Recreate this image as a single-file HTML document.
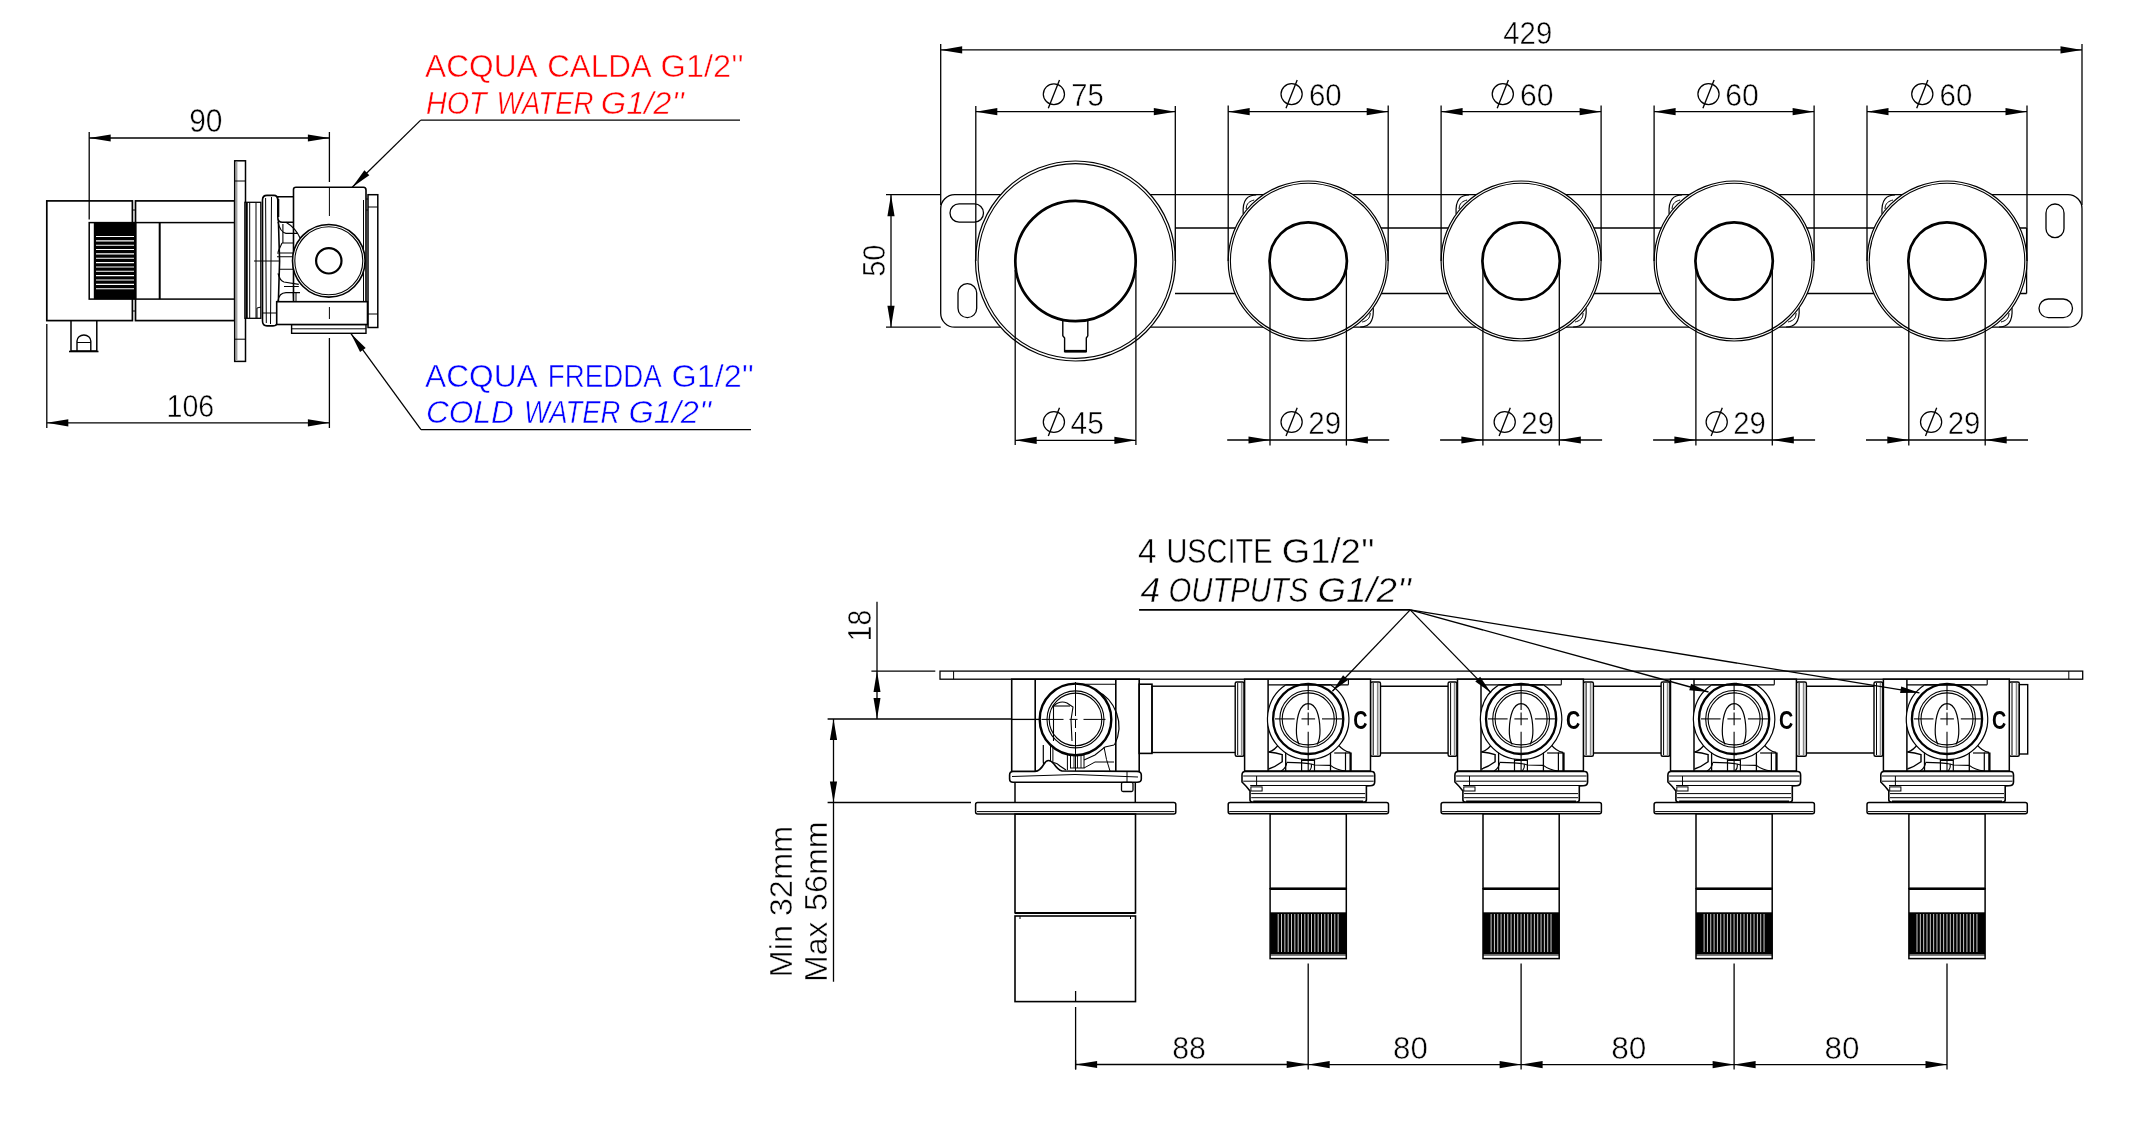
<!DOCTYPE html>
<html><head><meta charset="utf-8"><style>
html,body{margin:0;padding:0;background:#fff;overflow:hidden;}
svg{display:block;}
text{font-family:"Liberation Sans",sans-serif;}
.t{opacity:0.999;}
</style></head><body>
<svg width="2134" height="1122" viewBox="0 0 2134 1122" stroke="#000" fill="none" stroke-linecap="butt">
<rect x="0" y="0" width="2134" height="1122" fill="#fff" stroke="none"/>
<g class="t">
<line x1="89.20" y1="138.00" x2="329.40" y2="138.00" stroke-width="1.3" />
<path d="M89.20,138.00 L110.70,134.40 L110.70,141.60Z" fill="#000" stroke="none"/>
<path d="M329.40,138.00 L307.90,141.60 L307.90,134.40Z" fill="#000" stroke="none"/>
<line x1="89.20" y1="132.00" x2="89.20" y2="219.50" stroke-width="1.3" />
<line x1="329.40" y1="132.00" x2="329.40" y2="182.00" stroke-width="1.3" />
<text transform="translate(190.50,131.90) scale(0.9211,1)" x="-1.47" y="0" font-size="32.57" fill="#000" stroke="#fff" stroke-width="0.5">90</text>
<line x1="46.80" y1="422.80" x2="329.40" y2="422.80" stroke-width="1.3" />
<path d="M46.80,422.80 L68.30,419.20 L68.30,426.40Z" fill="#000" stroke="none"/>
<path d="M329.40,422.80 L307.90,426.40 L307.90,419.20Z" fill="#000" stroke="none"/>
<line x1="46.80" y1="324.00" x2="46.80" y2="428.00" stroke-width="1.3" />
<line x1="329.40" y1="338.00" x2="329.40" y2="428.00" stroke-width="1.3" />
<text transform="translate(168.70,416.90) scale(0.8892,1)" x="-2.41" y="0" font-size="32.14" fill="#000" stroke="#fff" stroke-width="0.5">106</text>
<rect x="46.80" y="200.90" width="85.60" height="119.70" stroke-width="1.7" fill="none" rx="0" />
<rect x="135.50" y="200.90" width="99.20" height="119.70" stroke-width="1.7" fill="none" rx="0" />
<line x1="132.40" y1="210.00" x2="135.50" y2="210.00" stroke-width="1.0" />
<line x1="132.40" y1="311.00" x2="135.50" y2="311.00" stroke-width="1.0" />
<rect x="89.20" y="222.60" width="46.30" height="76.50" stroke-width="1.5" fill="none" rx="0" />
<rect x="93.80" y="222.60" width="41.70" height="76.50" stroke-width="0" fill="#000" rx="0" />
<line x1="96.00" y1="236.50" x2="134.00" y2="236.50" stroke-width="1.1" stroke="#fff"/>
<line x1="96.00" y1="240.85" x2="134.00" y2="240.85" stroke-width="1.1" stroke="#fff"/>
<line x1="96.00" y1="245.20" x2="134.00" y2="245.20" stroke-width="1.1" stroke="#fff"/>
<line x1="96.00" y1="249.55" x2="134.00" y2="249.55" stroke-width="1.1" stroke="#fff"/>
<line x1="96.00" y1="253.90" x2="134.00" y2="253.90" stroke-width="1.1" stroke="#fff"/>
<line x1="96.00" y1="258.25" x2="134.00" y2="258.25" stroke-width="1.1" stroke="#fff"/>
<line x1="96.00" y1="262.60" x2="134.00" y2="262.60" stroke-width="1.1" stroke="#fff"/>
<line x1="96.00" y1="266.95" x2="134.00" y2="266.95" stroke-width="1.1" stroke="#fff"/>
<line x1="96.00" y1="271.30" x2="134.00" y2="271.30" stroke-width="1.1" stroke="#fff"/>
<line x1="96.00" y1="275.65" x2="134.00" y2="275.65" stroke-width="1.1" stroke="#fff"/>
<line x1="96.00" y1="280.00" x2="134.00" y2="280.00" stroke-width="1.1" stroke="#fff"/>
<line x1="96.00" y1="284.35" x2="134.00" y2="284.35" stroke-width="1.1" stroke="#fff"/>
<line x1="96.00" y1="288.70" x2="134.00" y2="288.70" stroke-width="1.1" stroke="#fff"/>
<rect x="135.50" y="222.60" width="99.20" height="76.50" stroke-width="1.5" fill="none" rx="0" />
<line x1="159.70" y1="222.60" x2="159.70" y2="299.10" stroke-width="2.0" />
<path d="M71,320.6 L71,351 L96.8,351 L96.8,320.6" stroke-width="1.5" fill="none" />
<path d="M77,351 L77,341 A6.9,6.0 0 0 1 90.8,341 L90.8,351" stroke-width="1.4" fill="none" />
<line x1="77.00" y1="342.50" x2="90.80" y2="342.50" stroke-width="1.0" />
<line x1="69.00" y1="351.50" x2="98.50" y2="351.50" stroke-width="1.6" />
<rect x="234.70" y="160.80" width="10.80" height="200.60" stroke-width="1.5" fill="#fff" rx="0" />
<line x1="236.80" y1="162.00" x2="236.80" y2="360.00" stroke-width="1.0" stroke="#777"/>
<line x1="234.70" y1="181.00" x2="245.50" y2="181.00" stroke-width="1.0" />
<line x1="234.70" y1="339.20" x2="245.50" y2="339.20" stroke-width="1.0" />
<rect x="244.90" y="202.30" width="15.90" height="116.00" stroke-width="1.3" fill="#fff" rx="0" />
<line x1="246.60" y1="203.00" x2="246.60" y2="318.00" stroke-width="2.3" />
<line x1="249.70" y1="203.00" x2="249.70" y2="318.00" stroke-width="1.0" />
<line x1="256.00" y1="203.00" x2="256.00" y2="318.00" stroke-width="1.0" />
<path d="M257,318 L257,308 L261,307" stroke-width="1.0" fill="none" />
<line x1="254.00" y1="261.00" x2="262.00" y2="261.00" stroke-width="1.0" />
<path d="M262.5,200 Q262.5,195.4 267,195.4 L274,195.4 Q277.5,195.4 277.8,200 L279.6,261 L277.8,321 Q277.5,325.9 273,325.9 L267,325.9 Q262.5,325.9 262.5,321 Z" stroke-width="1.6" fill="#fff" />
<line x1="265.60" y1="198.00" x2="266.30" y2="323.00" stroke-width="1.0" />
<line x1="271.50" y1="197.00" x2="270.50" y2="324.00" stroke-width="1.0" />
<line x1="262.50" y1="261.00" x2="279.50" y2="261.00" stroke-width="1.0" />
<line x1="263.00" y1="313.00" x2="277.50" y2="313.00" stroke-width="1.0" />
<path d="M277.8,196.7 L293.9,196.7 L293.9,222.3 L282.5,222.3 Q277.8,222.3 277.8,217 Z" stroke-width="1.5" fill="#fff" />
<line x1="278.20" y1="199.00" x2="278.20" y2="217.00" stroke-width="2.2" />
<path d="M293.5,301.7 L293.5,189.5 Q293.5,187.3 296,187.3 L363.5,187.3 Q366,187.3 366,190 L366,301.7" stroke-width="1.6" fill="#fff" />
<line x1="363.50" y1="200.00" x2="363.50" y2="301.00" stroke-width="1.0" />
<line x1="366.00" y1="199.00" x2="368.00" y2="199.00" stroke-width="1.0" />
<line x1="366.00" y1="210.00" x2="368.00" y2="210.00" stroke-width="1.0" />
<rect x="291.60" y="324.50" width="74.40" height="8.80" stroke-width="1.4" fill="#fff" rx="0" />
<line x1="291.60" y1="328.80" x2="366.00" y2="328.80" stroke-width="1.0" />
<rect x="368.00" y="194.70" width="9.80" height="132.80" stroke-width="1.5" fill="#fff" rx="0" />
<line x1="368.00" y1="207.00" x2="377.80" y2="207.00" stroke-width="1.0" />
<line x1="368.00" y1="314.00" x2="377.80" y2="314.00" stroke-width="1.0" />
<path d="M278,222 Q280,232 286,233.3 L297.4,233.3" stroke-width="1.2" fill="none" />
<path d="M282.9,224 L282.9,243 M282,243 L293,243" stroke-width="1.1" fill="none" />
<path d="M286,222.3 Q296,228 301,240" stroke-width="1.2" fill="none" />
<path d="M277,253 L293,253 M277,256.8 L293,256.8 M279,269.3 L293,269.3" stroke-width="1.1" fill="none" />
<path d="M282,243 L278,252" stroke-width="1.1" fill="none" />
<path d="M278,273.4 Q280,281 284,282 L298.8,284.4 M284,286.5 L298.8,286.5" stroke-width="1.2" fill="none" />
<path d="M278,301 Q279,293 286,292.7 L300,292.7" stroke-width="1.2" fill="none" />
<line x1="293.20" y1="292.70" x2="293.50" y2="301.00" stroke-width="1.0" />
<line x1="296.00" y1="292.70" x2="296.00" y2="301.00" stroke-width="1.0" />
<rect x="276.70" y="301.70" width="90.80" height="22.80" stroke-width="1.6" fill="#fff" rx="0" />
<circle cx="328.80" cy="260.80" r="36.30" stroke-width="1.6" fill="#fff" />
<circle cx="328.80" cy="260.80" r="34.00" stroke-width="1.1" fill="none" />
<circle cx="328.80" cy="260.80" r="12.70" stroke-width="2.2" fill="none" />
<line x1="329.40" y1="188.00" x2="329.40" y2="216.00" stroke-width="1.0" />
<line x1="329.40" y1="307.00" x2="329.40" y2="319.00" stroke-width="1.0" />
<line x1="420.70" y1="120.10" x2="740.00" y2="120.10" stroke-width="1.3" />
<line x1="420.70" y1="120.10" x2="352.20" y2="187.20" stroke-width="1.3" />
<path d="M352.20,187.20 L364.40,170.35 L369.29,175.36Z" fill="#000" stroke="none"/>
<line x1="421.00" y1="429.60" x2="751.00" y2="429.60" stroke-width="1.3" />
<line x1="421.00" y1="429.60" x2="350.80" y2="333.40" stroke-width="1.3" />
<path d="M350.80,333.40 L365.71,347.90 L360.06,352.02Z" fill="#000" stroke="none"/>
<text transform="translate(425.10,77.20) scale(1.0260,1)" x="-0.00" y="0" font-size="30.87" fill="#ff0000" stroke="#fff" stroke-width="0.5">ACQUA</text>
<text transform="translate(548.70,77.20) scale(1.0157,1)" x="-1.54" y="0" font-size="30.87" fill="#ff0000" stroke="#fff" stroke-width="0.5">CALDA</text>
<text transform="translate(662.20,77.20) scale(1.0551,1)" x="-1.54" y="0" font-size="30.87" fill="#ff0000" stroke="#fff" stroke-width="0.5">G1/2''</text>
<text transform="translate(426.80,113.70) scale(0.9069,1)" x="-0.95" y="0" font-size="31.74" fill="#ff0000" stroke="#fff" stroke-width="0.5" font-style="italic">HOT</text>
<text transform="translate(498.90,113.70) scale(0.8674,1)" x="-2.70" y="0" font-size="31.74" fill="#ff0000" stroke="#fff" stroke-width="0.5" font-style="italic">WATER</text>
<text transform="translate(602.40,113.70) scale(1.0286,1)" x="-1.59" y="0" font-size="31.74" fill="#ff0000" stroke="#fff" stroke-width="0.5" font-style="italic">G1/2''</text>
<text transform="translate(425.00,387.00) scale(1.0270,1)" x="-0.00" y="0" font-size="30.87" fill="#0000ff" stroke="#fff" stroke-width="0.5">ACQUA</text>
<text transform="translate(550.00,387.00) scale(0.8979,1)" x="-2.47" y="0" font-size="30.87" fill="#0000ff" stroke="#fff" stroke-width="0.5">FREDDA</text>
<text transform="translate(673.10,387.00) scale(1.0485,1)" x="-1.54" y="0" font-size="30.87" fill="#0000ff" stroke="#fff" stroke-width="0.5">G1/2''</text>
<text transform="translate(427.70,422.80) scale(1.0153,1)" x="-1.71" y="0" font-size="31.16" fill="#0000ff" stroke="#fff" stroke-width="0.5" font-style="italic">COLD</text>
<text transform="translate(526.30,422.80) scale(0.8797,1)" x="-2.65" y="0" font-size="31.16" fill="#0000ff" stroke="#fff" stroke-width="0.5" font-style="italic">WATER</text>
<text transform="translate(630.10,422.80) scale(1.0427,1)" x="-1.56" y="0" font-size="31.16" fill="#0000ff" stroke="#fff" stroke-width="0.5" font-style="italic">G1/2''</text>
<rect x="940.70" y="194.70" width="1141.30" height="132.50" stroke-width="1.3" fill="#fff" rx="14" />
<line x1="886.00" y1="194.70" x2="940.70" y2="194.70" stroke-width="1.3" />
<line x1="886.00" y1="327.20" x2="940.70" y2="327.20" stroke-width="1.3" />
<rect x="950.00" y="203.90" width="33.50" height="18.30" stroke-width="1.3" fill="none" rx="9.1" />
<rect x="958.00" y="283.70" width="18.70" height="33.90" stroke-width="1.3" fill="none" rx="9.3" />
<rect x="2046.00" y="204.00" width="18.00" height="33.70" stroke-width="1.3" fill="none" rx="9" />
<rect x="2039.00" y="299.00" width="33.50" height="18.60" stroke-width="1.3" fill="none" rx="9.3" />
<line x1="1175.00" y1="228.00" x2="2026.60" y2="228.00" stroke-width="1.3" />
<line x1="1175.00" y1="293.50" x2="2026.60" y2="293.50" stroke-width="1.3" />
<line x1="2026.60" y1="228.00" x2="2026.60" y2="293.50" stroke-width="1.3" />
<line x1="891.00" y1="194.70" x2="891.00" y2="327.20" stroke-width="1.3" />
<path d="M891.00,194.70 L894.60,216.20 L887.40,216.20Z" fill="#000" stroke="none"/>
<path d="M891.00,327.20 L887.40,305.70 L894.60,305.70Z" fill="#000" stroke="none"/>
<text transform="translate(885.00,275.70) rotate(-90) scale(0.9118,1)" x="-1.28" y="0" font-size="32.00" fill="#000" stroke="#fff" stroke-width="0.5">50</text>
<line x1="940.70" y1="49.90" x2="2082.00" y2="49.90" stroke-width="1.3" />
<path d="M940.70,49.90 L962.20,46.30 L962.20,53.50Z" fill="#000" stroke="none"/>
<path d="M2082.00,49.90 L2060.50,53.50 L2060.50,46.30Z" fill="#000" stroke="none"/>
<line x1="940.70" y1="44.00" x2="940.70" y2="205.00" stroke-width="1.3" />
<line x1="2082.00" y1="44.00" x2="2082.00" y2="205.00" stroke-width="1.3" />
<text transform="translate(1503.90,43.50) scale(0.9201,1)" x="-0.64" y="0" font-size="31.86" fill="#000" stroke="#fff" stroke-width="0.5">429</text>
<circle cx="1075.50" cy="261.00" r="100.00" stroke-width="1.2" fill="#fff" />
<circle cx="1075.50" cy="261.00" r="97.40" stroke-width="1.1" fill="none" />
<circle cx="1075.50" cy="261.00" r="60.20" stroke-width="2.7" fill="none" />
<path d="M1062.8,321 L1062.8,335.8 L1064.6,338 L1064.6,351.5 L1086.3,351.5 L1086.3,338 L1087.8,335.8 L1087.8,321" stroke-width="1.4" fill="none" />
<line x1="1064.60" y1="351.20" x2="1086.30" y2="351.20" stroke-width="2.6" />
<line x1="975.80" y1="111.70" x2="1175.30" y2="111.70" stroke-width="1.3" />
<path d="M975.80,111.70 L997.30,108.10 L997.30,115.30Z" fill="#000" stroke="none"/>
<path d="M1175.30,111.70 L1153.80,115.30 L1153.80,108.10Z" fill="#000" stroke="none"/>
<line x1="975.80" y1="106.00" x2="975.80" y2="261.00" stroke-width="1.3" />
<line x1="1175.30" y1="106.00" x2="1175.30" y2="261.00" stroke-width="1.3" />
<ellipse cx="1053.90" cy="94.20" rx="10.60" ry="10.40" stroke-width="1.25" fill="none" />
<line x1="1048.30" y1="108.30" x2="1059.50" y2="80.00" stroke-width="1.35" />
<text transform="translate(1072.60,105.70) scale(0.9333,1)" x="-1.57" y="0" font-size="31.30" fill="#000" stroke="#fff" stroke-width="0.5">75</text>
<line x1="1015.20" y1="440.30" x2="1135.90" y2="440.30" stroke-width="1.3" />
<path d="M1015.20,440.30 L1036.70,436.70 L1036.70,443.90Z" fill="#000" stroke="none"/>
<path d="M1135.90,440.30 L1114.40,443.90 L1114.40,436.70Z" fill="#000" stroke="none"/>
<line x1="1015.20" y1="270.00" x2="1015.20" y2="445.00" stroke-width="1.3" />
<line x1="1135.90" y1="270.00" x2="1135.90" y2="445.00" stroke-width="1.3" />
<ellipse cx="1053.90" cy="422.00" rx="10.60" ry="10.40" stroke-width="1.25" fill="none" />
<line x1="1048.30" y1="436.10" x2="1059.50" y2="407.80" stroke-width="1.35" />
<text transform="translate(1071.20,433.50) scale(0.9379,1)" x="-0.64" y="0" font-size="31.88" fill="#000" stroke="#fff" stroke-width="0.5">45</text>
<path d="M1243.2,214 C1242.2,199 1248.2,195 1256.2,195" stroke-width="1.2" fill="none" />
<path d="M1246.2,209 C1246.2,203 1250.2,201 1254.2,200" stroke-width="1.0" fill="none" />
<path d="M1373.2,308 C1374.2,323 1368.2,327 1360.2,327" stroke-width="1.2" fill="none" />
<path d="M1370.2,313 C1370.2,319 1366.2,321 1362.2,322" stroke-width="1.0" fill="none" />
<circle cx="1308.20" cy="261.00" r="80.00" stroke-width="1.2" fill="#fff" />
<circle cx="1308.20" cy="261.00" r="77.80" stroke-width="1.1" fill="none" />
<circle cx="1308.20" cy="261.00" r="38.70" stroke-width="2.7" fill="none" />
<line x1="1228.20" y1="111.70" x2="1388.20" y2="111.70" stroke-width="1.3" />
<path d="M1228.20,111.70 L1249.70,108.10 L1249.70,115.30Z" fill="#000" stroke="none"/>
<path d="M1388.20,111.70 L1366.70,115.30 L1366.70,108.10Z" fill="#000" stroke="none"/>
<line x1="1228.20" y1="105.60" x2="1228.20" y2="261.00" stroke-width="1.3" />
<line x1="1388.20" y1="105.60" x2="1388.20" y2="261.00" stroke-width="1.3" />
<ellipse cx="1291.60" cy="94.10" rx="10.60" ry="10.40" stroke-width="1.25" fill="none" />
<line x1="1286.00" y1="108.20" x2="1297.20" y2="79.90" stroke-width="1.35" />
<text transform="translate(1310.40,105.80) scale(0.9207,1)" x="-1.60" y="0" font-size="32.00" fill="#000" stroke="#fff" stroke-width="0.5">60</text>
<line x1="1227.20" y1="440.00" x2="1389.20" y2="440.00" stroke-width="1.3" />
<path d="M1270.00,440.00 L1248.50,443.60 L1248.50,436.40Z" fill="#000" stroke="none"/>
<path d="M1346.40,440.00 L1367.90,436.40 L1367.90,443.60Z" fill="#000" stroke="none"/>
<line x1="1270.00" y1="266.00" x2="1270.00" y2="445.50" stroke-width="1.3" />
<line x1="1346.40" y1="266.00" x2="1346.40" y2="445.50" stroke-width="1.3" />
<ellipse cx="1291.60" cy="422.00" rx="10.60" ry="10.40" stroke-width="1.25" fill="none" />
<line x1="1286.00" y1="436.10" x2="1297.20" y2="407.80" stroke-width="1.35" />
<text transform="translate(1309.70,433.50) scale(0.9491,1)" x="-1.56" y="0" font-size="31.14" fill="#000" stroke="#fff" stroke-width="0.5">29</text>
<path d="M1456.1,214 C1455.1,199 1461.1,195 1469.1,195" stroke-width="1.2" fill="none" />
<path d="M1459.1,209 C1459.1,203 1463.1,201 1467.1,200" stroke-width="1.0" fill="none" />
<path d="M1586.1,308 C1587.1,323 1581.1,327 1573.1,327" stroke-width="1.2" fill="none" />
<path d="M1583.1,313 C1583.1,319 1579.1,321 1575.1,322" stroke-width="1.0" fill="none" />
<circle cx="1521.10" cy="261.00" r="80.00" stroke-width="1.2" fill="#fff" />
<circle cx="1521.10" cy="261.00" r="77.80" stroke-width="1.1" fill="none" />
<circle cx="1521.10" cy="261.00" r="38.70" stroke-width="2.7" fill="none" />
<line x1="1441.10" y1="111.70" x2="1601.10" y2="111.70" stroke-width="1.3" />
<path d="M1441.10,111.70 L1462.60,108.10 L1462.60,115.30Z" fill="#000" stroke="none"/>
<path d="M1601.10,111.70 L1579.60,115.30 L1579.60,108.10Z" fill="#000" stroke="none"/>
<line x1="1441.10" y1="105.60" x2="1441.10" y2="261.00" stroke-width="1.3" />
<line x1="1601.10" y1="105.60" x2="1601.10" y2="261.00" stroke-width="1.3" />
<ellipse cx="1502.80" cy="94.10" rx="10.60" ry="10.40" stroke-width="1.25" fill="none" />
<line x1="1497.20" y1="108.20" x2="1508.40" y2="79.90" stroke-width="1.35" />
<text transform="translate(1521.50,105.80) scale(0.9421,1)" x="-1.60" y="0" font-size="32.00" fill="#000" stroke="#fff" stroke-width="0.5">60</text>
<line x1="1440.10" y1="440.00" x2="1602.10" y2="440.00" stroke-width="1.3" />
<path d="M1482.90,440.00 L1461.40,443.60 L1461.40,436.40Z" fill="#000" stroke="none"/>
<path d="M1559.30,440.00 L1580.80,436.40 L1580.80,443.60Z" fill="#000" stroke="none"/>
<line x1="1482.90" y1="266.00" x2="1482.90" y2="445.50" stroke-width="1.3" />
<line x1="1559.30" y1="266.00" x2="1559.30" y2="445.50" stroke-width="1.3" />
<ellipse cx="1504.70" cy="422.00" rx="10.60" ry="10.40" stroke-width="1.25" fill="none" />
<line x1="1499.10" y1="436.10" x2="1510.30" y2="407.80" stroke-width="1.35" />
<text transform="translate(1522.70,433.50) scale(0.9491,1)" x="-1.56" y="0" font-size="31.14" fill="#000" stroke="#fff" stroke-width="0.5">29</text>
<path d="M1669.1,214 C1668.1,199 1674.1,195 1682.1,195" stroke-width="1.2" fill="none" />
<path d="M1672.1,209 C1672.1,203 1676.1,201 1680.1,200" stroke-width="1.0" fill="none" />
<path d="M1799.1,308 C1800.1,323 1794.1,327 1786.1,327" stroke-width="1.2" fill="none" />
<path d="M1796.1,313 C1796.1,319 1792.1,321 1788.1,322" stroke-width="1.0" fill="none" />
<circle cx="1734.10" cy="261.00" r="80.00" stroke-width="1.2" fill="#fff" />
<circle cx="1734.10" cy="261.00" r="77.80" stroke-width="1.1" fill="none" />
<circle cx="1734.10" cy="261.00" r="38.70" stroke-width="2.7" fill="none" />
<line x1="1654.10" y1="111.70" x2="1814.10" y2="111.70" stroke-width="1.3" />
<path d="M1654.10,111.70 L1675.60,108.10 L1675.60,115.30Z" fill="#000" stroke="none"/>
<path d="M1814.10,111.70 L1792.60,115.30 L1792.60,108.10Z" fill="#000" stroke="none"/>
<line x1="1654.10" y1="105.60" x2="1654.10" y2="261.00" stroke-width="1.3" />
<line x1="1814.10" y1="105.60" x2="1814.10" y2="261.00" stroke-width="1.3" />
<ellipse cx="1708.50" cy="94.10" rx="10.60" ry="10.40" stroke-width="1.25" fill="none" />
<line x1="1702.90" y1="108.20" x2="1714.10" y2="79.90" stroke-width="1.35" />
<text transform="translate(1726.70,105.80) scale(0.9451,1)" x="-1.60" y="0" font-size="32.00" fill="#000" stroke="#fff" stroke-width="0.5">60</text>
<line x1="1653.10" y1="440.00" x2="1815.10" y2="440.00" stroke-width="1.3" />
<path d="M1695.90,440.00 L1674.40,443.60 L1674.40,436.40Z" fill="#000" stroke="none"/>
<path d="M1772.30,440.00 L1793.80,436.40 L1793.80,443.60Z" fill="#000" stroke="none"/>
<line x1="1695.90" y1="266.00" x2="1695.90" y2="445.50" stroke-width="1.3" />
<line x1="1772.30" y1="266.00" x2="1772.30" y2="445.50" stroke-width="1.3" />
<ellipse cx="1716.70" cy="422.00" rx="10.60" ry="10.40" stroke-width="1.25" fill="none" />
<line x1="1711.10" y1="436.10" x2="1722.30" y2="407.80" stroke-width="1.35" />
<text transform="translate(1734.70,433.50) scale(0.9427,1)" x="-1.56" y="0" font-size="31.14" fill="#000" stroke="#fff" stroke-width="0.5">29</text>
<path d="M1882.0,214 C1881.0,199 1887.0,195 1895.0,195" stroke-width="1.2" fill="none" />
<path d="M1885.0,209 C1885.0,203 1889.0,201 1893.0,200" stroke-width="1.0" fill="none" />
<path d="M2012.0,308 C2013.0,323 2007.0,327 1999.0,327" stroke-width="1.2" fill="none" />
<path d="M2009.0,313 C2009.0,319 2005.0,321 2001.0,322" stroke-width="1.0" fill="none" />
<circle cx="1947.00" cy="261.00" r="80.00" stroke-width="1.2" fill="#fff" />
<circle cx="1947.00" cy="261.00" r="77.80" stroke-width="1.1" fill="none" />
<circle cx="1947.00" cy="261.00" r="38.70" stroke-width="2.7" fill="none" />
<line x1="1867.00" y1="111.70" x2="2027.00" y2="111.70" stroke-width="1.3" />
<path d="M1867.00,111.70 L1888.50,108.10 L1888.50,115.30Z" fill="#000" stroke="none"/>
<path d="M2027.00,111.70 L2005.50,115.30 L2005.50,108.10Z" fill="#000" stroke="none"/>
<line x1="1867.00" y1="105.60" x2="1867.00" y2="261.00" stroke-width="1.3" />
<line x1="2027.00" y1="105.60" x2="2027.00" y2="261.00" stroke-width="1.3" />
<ellipse cx="1922.30" cy="94.10" rx="10.60" ry="10.40" stroke-width="1.25" fill="none" />
<line x1="1916.70" y1="108.20" x2="1927.90" y2="79.90" stroke-width="1.35" />
<text transform="translate(1941.00,105.80) scale(0.9207,1)" x="-1.60" y="0" font-size="32.00" fill="#000" stroke="#fff" stroke-width="0.5">60</text>
<line x1="1866.00" y1="440.00" x2="2028.00" y2="440.00" stroke-width="1.3" />
<path d="M1908.80,440.00 L1887.30,443.60 L1887.30,436.40Z" fill="#000" stroke="none"/>
<path d="M1985.20,440.00 L2006.70,436.40 L2006.70,443.60Z" fill="#000" stroke="none"/>
<line x1="1908.80" y1="266.00" x2="1908.80" y2="445.50" stroke-width="1.3" />
<line x1="1985.20" y1="266.00" x2="1985.20" y2="445.50" stroke-width="1.3" />
<ellipse cx="1931.10" cy="422.00" rx="10.60" ry="10.40" stroke-width="1.25" fill="none" />
<line x1="1925.50" y1="436.10" x2="1936.70" y2="407.80" stroke-width="1.35" />
<text transform="translate(1949.10,433.50) scale(0.9427,1)" x="-1.56" y="0" font-size="31.14" fill="#000" stroke="#fff" stroke-width="0.5">29</text>
<rect x="940.00" y="671.10" width="1142.70" height="8.10" stroke-width="1.3" fill="#fff" rx="0" />
<line x1="953.60" y1="671.10" x2="953.60" y2="679.20" stroke-width="1.0" />
<line x1="2068.80" y1="671.10" x2="2068.80" y2="679.20" stroke-width="1.0" />
<line x1="877.00" y1="601.70" x2="877.00" y2="719.00" stroke-width="1.3" />
<path d="M877.00,671.10 L880.50,692.10 L873.50,692.10Z" fill="#000" stroke="none"/>
<path d="M877.00,719.00 L873.50,698.00 L880.50,698.00Z" fill="#000" stroke="none"/>
<line x1="871.40" y1="671.10" x2="935.30" y2="671.10" stroke-width="1.3" />
<line x1="827.60" y1="719.00" x2="1040.00" y2="719.00" stroke-width="1.3" />
<text transform="translate(870.70,639.10) rotate(-90) scale(0.8709,1)" x="-2.43" y="0" font-size="32.43" fill="#000" stroke="#fff" stroke-width="0.5">18</text>
<line x1="833.50" y1="719.00" x2="833.50" y2="981.70" stroke-width="1.3" />
<path d="M833.50,719.00 L837.10,740.00 L829.90,740.00Z" fill="#000" stroke="none"/>
<path d="M833.50,802.50 L829.90,781.50 L837.10,781.50Z" fill="#000" stroke="none"/>
<line x1="827.60" y1="802.50" x2="971.00" y2="802.50" stroke-width="1.3" />
<text transform="translate(791.50,974.80) rotate(-90) scale(1.0212,1)" x="-2.55" y="0" font-size="31.88" fill="#000" stroke="#fff" stroke-width="0.5">Min</text>
<text transform="translate(791.50,915.00) rotate(-90) scale(1.0212,1)" x="-1.28" y="0" font-size="31.88" fill="#000" stroke="#fff" stroke-width="0.5">32mm</text>
<text transform="translate(827.10,979.40) rotate(-90) scale(1.0082,1)" x="-2.54" y="0" font-size="31.74" fill="#000" stroke="#fff" stroke-width="0.5">Max</text>
<text transform="translate(827.10,909.70) rotate(-90) scale(1.0176,1)" x="-1.27" y="0" font-size="31.74" fill="#000" stroke="#fff" stroke-width="0.5">56mm</text>
<rect x="1011.70" y="679.20" width="127.50" height="92.30" stroke-width="1.6" fill="#fff" rx="0" />
<line x1="1035.20" y1="679.20" x2="1035.20" y2="771.50" stroke-width="1.6" />
<line x1="1115.80" y1="679.20" x2="1115.80" y2="771.50" stroke-width="1.6" />
<line x1="1075.00" y1="684.20" x2="1115.80" y2="684.20" stroke-width="1.1" />
<line x1="1011.70" y1="719.40" x2="1040.00" y2="719.40" stroke-width="1.3" />
<path d="M1095,690 A40,40 0 0 1 1114.5,745" stroke-width="1.2" fill="none" />
<path d="M1043.3,745 L1043.3,762 Q1044,770 1050,765 Q1054,760 1060,766 L1066,770" stroke-width="1.2" fill="none" />
<line x1="1050.50" y1="745.00" x2="1050.50" y2="768.00" stroke-width="1.0" />
<line x1="1052.90" y1="748.00" x2="1052.90" y2="768.00" stroke-width="1.0" />
<line x1="1067.40" y1="752.00" x2="1067.40" y2="770.00" stroke-width="1.0" />
<rect x="1070.50" y="755.00" width="13.50" height="13.00" stroke-width="1.0" fill="none" rx="0" />
<line x1="1074.00" y1="755.00" x2="1074.00" y2="768.00" stroke-width="0.9" />
<line x1="1077.50" y1="755.00" x2="1077.50" y2="768.00" stroke-width="0.9" />
<line x1="1081.00" y1="755.00" x2="1081.00" y2="768.00" stroke-width="0.9" />
<path d="M1084,760 L1095,755 L1105,747 L1114,745" stroke-width="1.1" fill="none" />
<path d="M1084,768 L1095,762 L1114,762" stroke-width="1.0" fill="none" />
<path d="M1104,747 Q1106,760 1110,771" stroke-width="1.0" fill="none" />
<circle cx="1075.50" cy="719.40" r="35.80" stroke-width="2.4" fill="#fff" />
<circle cx="1075.50" cy="719.40" r="28.50" stroke-width="1.1" fill="none" />
<circle cx="1075.50" cy="719.40" r="26.30" stroke-width="1.1" fill="none" />
<path d="M1053.5,706 L1053.5,741 M1053.5,706 Q1060,700 1067,703 L1073,707 L1071,720 L1072,741" stroke-width="1.1" fill="none" />
<line x1="1053.50" y1="706.00" x2="1070.00" y2="706.00" stroke-width="1.1" />
<line x1="1041.50" y1="719.40" x2="1109.50" y2="719.40" stroke-width="1.0" stroke-dasharray="22 6 8 6"/>
<line x1="1075.50" y1="682.00" x2="1075.50" y2="783.00" stroke-width="1.0" stroke-dasharray="34 4 8 4 200"/>
<path d="M1009.6,775 Q1009.6,771.5 1013,771.5 L1035,771.5 Q1040,771 1044,764 Q1048,757 1054,764 Q1058,770 1062,771 L1137,771.5 Q1141.3,771.5 1141.3,775 L1141.3,779 Q1141.3,782.3 1137,782.3 L1013,782.3 Q1009.6,782.3 1009.6,779 Z" stroke-width="1.6" fill="#fff" />
<line x1="1012.00" y1="776.50" x2="1075.00" y2="774.50" stroke-width="1.0" />
<line x1="1075.00" y1="774.50" x2="1138.00" y2="777.00" stroke-width="1.0" />
<line x1="1127.00" y1="771.50" x2="1127.00" y2="782.30" stroke-width="1.0" />
<line x1="1015.00" y1="782.30" x2="1015.00" y2="802.40" stroke-width="1.5" />
<line x1="1135.30" y1="782.30" x2="1135.30" y2="802.40" stroke-width="1.5" />
<rect x="1121.50" y="782.30" width="11.50" height="9.20" stroke-width="1.3" fill="none" rx="1.5" />
<rect x="1139.20" y="684.20" width="12.80" height="69.20" stroke-width="1.6" fill="none" rx="0" />
<rect x="1152.00" y="686.20" width="84.00" height="66.30" stroke-width="1.4" fill="none" rx="0" />
<rect x="975.60" y="802.40" width="200.20" height="11.70" stroke-width="1.5" fill="#fff" rx="2" />
<line x1="977.00" y1="811.60" x2="1174.50" y2="811.60" stroke-width="1.0" />
<rect x="1015.00" y="814.10" width="120.50" height="98.70" stroke-width="1.6" fill="none" rx="0" />
<line x1="1015.00" y1="913.50" x2="1135.50" y2="913.50" stroke-width="1.0" />
<rect x="1015.00" y="916.00" width="120.50" height="85.60" stroke-width="1.6" fill="none" rx="0" />
<line x1="1020.00" y1="916.00" x2="1020.00" y2="919.00" stroke-width="1.0" />
<line x1="1130.50" y1="916.00" x2="1130.50" y2="919.00" stroke-width="1.0" />
<line x1="1075.60" y1="991.00" x2="1075.60" y2="1001.60" stroke-width="1.3" />
<line x1="1075.60" y1="1007.00" x2="1075.60" y2="1069.50" stroke-width="1.3" />
<line x1="1380.20" y1="686.20" x2="1448.10" y2="686.20" stroke-width="1.4" />
<line x1="1380.20" y1="753.00" x2="1448.10" y2="753.00" stroke-width="1.4" />
<rect x="1235.20" y="682.00" width="8.80" height="74.20" stroke-width="1.4" fill="#fff" rx="1.5" />
<line x1="1237.70" y1="683.00" x2="1237.70" y2="755.00" stroke-width="1.0" />
<line x1="1241.70" y1="683.00" x2="1241.70" y2="755.00" stroke-width="1.6" stroke="#888"/>
<rect x="1370.50" y="682.00" width="10.00" height="74.20" stroke-width="1.4" fill="#fff" rx="1.5" />
<line x1="1373.20" y1="683.00" x2="1373.20" y2="755.00" stroke-width="1.0" />
<line x1="1377.70" y1="683.00" x2="1377.70" y2="755.00" stroke-width="1.6" stroke="#888"/>
<rect x="1244.60" y="679.20" width="125.90" height="91.80" stroke-width="1.5" fill="#fff" rx="0" />
<line x1="1268.10" y1="679.20" x2="1268.10" y2="771.00" stroke-width="1.5" />
<line x1="1268.10" y1="684.80" x2="1348.40" y2="684.80" stroke-width="1.3" />
<line x1="1348.40" y1="679.20" x2="1348.40" y2="684.80" stroke-width="1.1" />
<path d="M1279.0,743.8 Q1275.2,750 1268.6000000000001,752" stroke-width="1.3" fill="none" />
<path d="M1268.6000000000001,752 Q1276.2,752.5 1282.2,754.6 L1282.2,761.8 Q1275.2,767 1268.6000000000001,769" stroke-width="1.4" fill="none" />
<line x1="1285.70" y1="747.40" x2="1285.70" y2="771.00" stroke-width="1.3" />
<path d="M1286.7,762.8 Q1286.2,768 1281.2,771" stroke-width="1.2" fill="none" />
<path d="M1301.6000000000001,754 L1301.6000000000001,771 M1314.5,754 L1314.5,771 M1301.6000000000001,754.6 L1314.5,754.6 M1301.6000000000001,760.3 L1314.5,760.3" stroke-width="1.2" fill="none" />
<path d="M1286.7,762.3 Q1303.2,762.5 1311.2,764 L1314.5,765 L1330.2,765.4" stroke-width="1.2" fill="none" />
<path d="M1311.2,764 Q1312.2,768 1309.2,771" stroke-width="1.1" fill="none" />
<line x1="1330.50" y1="748.40" x2="1330.50" y2="771.00" stroke-width="1.3" />
<path d="M1337.4,743.8 Q1343.2,751 1350.2,752.5" stroke-width="1.3" fill="none" />
<path d="M1334.2,753 L1350.6000000000001,753" stroke-width="1.2" fill="none" />
<line x1="1345.50" y1="752.50" x2="1345.50" y2="771.00" stroke-width="1.2" />
<line x1="1350.60" y1="752.50" x2="1350.60" y2="771.00" stroke-width="2.3" />
<path d="M1330.5,765.4 Q1336.2,770 1345.2,771" stroke-width="1.2" fill="none" />
<path d="M1330.4,684.8 A40.7,40.7 0 1 1 1286.0,684.8 Z" stroke-width="1.2" fill="#fff" />
<line x1="1286.00" y1="684.80" x2="1330.40" y2="684.80" stroke-width="1.3" />
<circle cx="1308.20" cy="718.90" r="35.10" stroke-width="2.3" fill="none" />
<circle cx="1308.20" cy="718.90" r="28.40" stroke-width="1.1" fill="none" />
<circle cx="1308.20" cy="718.90" r="26.00" stroke-width="1.1" fill="none" />
<path d="M1308.2,703.6 C1316.2,703.6 1319.7,716 1320.0,730 Q1320.2,739 1317.2,744.5 M1308.2,703.6 C1300.2,703.6 1296.7,716 1296.4,730 Q1296.2,739 1299.2,744.5" stroke-width="1.2" fill="none" />
<line x1="1275.00" y1="718.90" x2="1294.70" y2="718.90" stroke-width="1.1" />
<line x1="1301.50" y1="718.90" x2="1315.10" y2="718.90" stroke-width="1.1" />
<line x1="1322.00" y1="718.90" x2="1342.40" y2="718.90" stroke-width="1.1" />
<line x1="1308.20" y1="683.60" x2="1308.20" y2="710.00" stroke-width="1.1" />
<line x1="1308.20" y1="712.50" x2="1308.20" y2="725.30" stroke-width="1.1" />
<line x1="1308.20" y1="731.70" x2="1308.20" y2="803.00" stroke-width="1.1" />
<text transform="translate(1354.00,728.50) scale(0.7659,1)" x="-1.03" y="0" font-size="25.71" fill="#000" stroke="none" font-weight="bold">C</text>
<path d="M1242.0,775 Q1242.0,771.5 1245.2,771.5 L1371.7,771.5 Q1374.7,771.5 1374.7,775 L1374.7,782 Q1374.7,785.7 1370.2,785.7 L1366.4,786 L1366.4,800 Q1366.4,802.2 1363.2,802.2 L1253.2,802.2 Q1250.0,802.2 1250.0,800 L1250.0,791 Q1246.2,786 1242.0,782 Z" stroke-width="1.6" fill="#fff" />
<line x1="1243.20" y1="776.00" x2="1373.70" y2="776.00" stroke-width="1.0" />
<line x1="1243.20" y1="781.20" x2="1373.70" y2="781.20" stroke-width="1.0" />
<line x1="1250.20" y1="785.50" x2="1370.20" y2="785.50" stroke-width="1.1" />
<line x1="1251.20" y1="793.60" x2="1365.20" y2="793.60" stroke-width="1.0" />
<line x1="1251.20" y1="797.70" x2="1365.20" y2="797.70" stroke-width="1.0" />
<line x1="1253.20" y1="801.70" x2="1363.20" y2="801.70" stroke-width="2.2" />
<line x1="1256.60" y1="776.00" x2="1256.60" y2="785.50" stroke-width="1.0" />
<rect x="1250.90" y="786.90" width="11.20" height="4.10" stroke-width="1.0" fill="none" rx="0" />
<rect x="1228.20" y="802.40" width="160.30" height="11.40" stroke-width="1.5" fill="#fff" rx="2" />
<line x1="1229.20" y1="811.60" x2="1387.50" y2="811.60" stroke-width="1.0" />
<rect x="1270.10" y="813.80" width="76.20" height="74.80" stroke-width="1.5" fill="none" rx="0" />
<line x1="1270.10" y1="888.80" x2="1346.30" y2="888.80" stroke-width="2.6" />
<rect x="1270.10" y="888.80" width="76.20" height="69.80" stroke-width="1.5" fill="none" rx="0" />
<rect x="1270.10" y="912.30" width="76.20" height="41.90" stroke-width="0" fill="#000" rx="0" />
<line x1="1278.20" y1="914.00" x2="1278.20" y2="952.00" stroke-width="0.8" stroke="#fff"/>
<line x1="1281.53" y1="914.00" x2="1281.53" y2="952.00" stroke-width="0.8" stroke="#fff"/>
<line x1="1284.86" y1="914.00" x2="1284.86" y2="952.00" stroke-width="0.8" stroke="#fff"/>
<line x1="1288.19" y1="914.00" x2="1288.19" y2="952.00" stroke-width="0.8" stroke="#fff"/>
<line x1="1291.52" y1="914.00" x2="1291.52" y2="952.00" stroke-width="0.8" stroke="#fff"/>
<line x1="1294.85" y1="914.00" x2="1294.85" y2="952.00" stroke-width="0.8" stroke="#fff"/>
<line x1="1298.18" y1="914.00" x2="1298.18" y2="952.00" stroke-width="0.8" stroke="#fff"/>
<line x1="1301.51" y1="914.00" x2="1301.51" y2="952.00" stroke-width="0.8" stroke="#fff"/>
<line x1="1304.84" y1="914.00" x2="1304.84" y2="952.00" stroke-width="0.8" stroke="#fff"/>
<line x1="1308.17" y1="914.00" x2="1308.17" y2="952.00" stroke-width="0.8" stroke="#fff"/>
<line x1="1311.50" y1="914.00" x2="1311.50" y2="952.00" stroke-width="0.8" stroke="#fff"/>
<line x1="1314.83" y1="914.00" x2="1314.83" y2="952.00" stroke-width="0.8" stroke="#fff"/>
<line x1="1318.16" y1="914.00" x2="1318.16" y2="952.00" stroke-width="0.8" stroke="#fff"/>
<line x1="1321.49" y1="914.00" x2="1321.49" y2="952.00" stroke-width="0.8" stroke="#fff"/>
<line x1="1324.82" y1="914.00" x2="1324.82" y2="952.00" stroke-width="0.8" stroke="#fff"/>
<line x1="1328.15" y1="914.00" x2="1328.15" y2="952.00" stroke-width="0.8" stroke="#fff"/>
<line x1="1331.48" y1="914.00" x2="1331.48" y2="952.00" stroke-width="0.8" stroke="#fff"/>
<line x1="1334.81" y1="914.00" x2="1334.81" y2="952.00" stroke-width="0.8" stroke="#fff"/>
<line x1="1338.14" y1="914.00" x2="1338.14" y2="952.00" stroke-width="0.8" stroke="#fff"/>
<line x1="1270.10" y1="955.00" x2="1346.30" y2="955.00" stroke-width="1.0" />
<line x1="1308.20" y1="963.50" x2="1308.20" y2="1069.50" stroke-width="1.3" />
<line x1="1593.10" y1="686.20" x2="1661.10" y2="686.20" stroke-width="1.4" />
<line x1="1593.10" y1="753.00" x2="1661.10" y2="753.00" stroke-width="1.4" />
<rect x="1448.10" y="682.00" width="8.80" height="74.20" stroke-width="1.4" fill="#fff" rx="1.5" />
<line x1="1450.60" y1="683.00" x2="1450.60" y2="755.00" stroke-width="1.0" />
<line x1="1454.60" y1="683.00" x2="1454.60" y2="755.00" stroke-width="1.6" stroke="#888"/>
<rect x="1583.40" y="682.00" width="10.00" height="74.20" stroke-width="1.4" fill="#fff" rx="1.5" />
<line x1="1586.10" y1="683.00" x2="1586.10" y2="755.00" stroke-width="1.0" />
<line x1="1590.60" y1="683.00" x2="1590.60" y2="755.00" stroke-width="1.6" stroke="#888"/>
<rect x="1457.50" y="679.20" width="125.90" height="91.80" stroke-width="1.5" fill="#fff" rx="0" />
<line x1="1481.00" y1="679.20" x2="1481.00" y2="771.00" stroke-width="1.5" />
<line x1="1481.00" y1="684.80" x2="1561.30" y2="684.80" stroke-width="1.3" />
<line x1="1561.30" y1="679.20" x2="1561.30" y2="684.80" stroke-width="1.1" />
<path d="M1491.8999999999999,743.8 Q1488.1,750 1481.5,752" stroke-width="1.3" fill="none" />
<path d="M1481.5,752 Q1489.1,752.5 1495.1,754.6 L1495.1,761.8 Q1488.1,767 1481.5,769" stroke-width="1.4" fill="none" />
<line x1="1498.60" y1="747.40" x2="1498.60" y2="771.00" stroke-width="1.3" />
<path d="M1499.6,762.8 Q1499.1,768 1494.1,771" stroke-width="1.2" fill="none" />
<path d="M1514.5,754 L1514.5,771 M1527.3999999999999,754 L1527.3999999999999,771 M1514.5,754.6 L1527.3999999999999,754.6 M1514.5,760.3 L1527.3999999999999,760.3" stroke-width="1.2" fill="none" />
<path d="M1499.6,762.3 Q1516.1,762.5 1524.1,764 L1527.3999999999999,765 L1543.1,765.4" stroke-width="1.2" fill="none" />
<path d="M1524.1,764 Q1525.1,768 1522.1,771" stroke-width="1.1" fill="none" />
<line x1="1543.40" y1="748.40" x2="1543.40" y2="771.00" stroke-width="1.3" />
<path d="M1550.3,743.8 Q1556.1,751 1563.1,752.5" stroke-width="1.3" fill="none" />
<path d="M1547.1,753 L1563.5,753" stroke-width="1.2" fill="none" />
<line x1="1558.40" y1="752.50" x2="1558.40" y2="771.00" stroke-width="1.2" />
<line x1="1563.50" y1="752.50" x2="1563.50" y2="771.00" stroke-width="2.3" />
<path d="M1543.3999999999999,765.4 Q1549.1,770 1558.1,771" stroke-width="1.2" fill="none" />
<path d="M1543.3,684.8 A40.7,40.7 0 1 1 1498.8999999999999,684.8 Z" stroke-width="1.2" fill="#fff" />
<line x1="1498.90" y1="684.80" x2="1543.30" y2="684.80" stroke-width="1.3" />
<circle cx="1521.10" cy="718.90" r="35.10" stroke-width="2.3" fill="none" />
<circle cx="1521.10" cy="718.90" r="28.40" stroke-width="1.1" fill="none" />
<circle cx="1521.10" cy="718.90" r="26.00" stroke-width="1.1" fill="none" />
<path d="M1521.1,703.6 C1529.1,703.6 1532.6,716 1532.8999999999999,730 Q1533.1,739 1530.1,744.5 M1521.1,703.6 C1513.1,703.6 1509.6,716 1509.3,730 Q1509.1,739 1512.1,744.5" stroke-width="1.2" fill="none" />
<line x1="1487.90" y1="718.90" x2="1507.60" y2="718.90" stroke-width="1.1" />
<line x1="1514.40" y1="718.90" x2="1528.00" y2="718.90" stroke-width="1.1" />
<line x1="1534.90" y1="718.90" x2="1555.30" y2="718.90" stroke-width="1.1" />
<line x1="1521.10" y1="683.60" x2="1521.10" y2="710.00" stroke-width="1.1" />
<line x1="1521.10" y1="712.50" x2="1521.10" y2="725.30" stroke-width="1.1" />
<line x1="1521.10" y1="731.70" x2="1521.10" y2="803.00" stroke-width="1.1" />
<text transform="translate(1566.90,728.50) scale(0.7659,1)" x="-1.03" y="0" font-size="25.71" fill="#000" stroke="none" font-weight="bold">C</text>
<path d="M1454.8999999999999,775 Q1454.8999999999999,771.5 1458.1,771.5 L1584.6,771.5 Q1587.6,771.5 1587.6,775 L1587.6,782 Q1587.6,785.7 1583.1,785.7 L1579.3,786 L1579.3,800 Q1579.3,802.2 1576.1,802.2 L1466.1,802.2 Q1462.8999999999999,802.2 1462.8999999999999,800 L1462.8999999999999,791 Q1459.1,786 1454.8999999999999,782 Z" stroke-width="1.6" fill="#fff" />
<line x1="1456.10" y1="776.00" x2="1586.60" y2="776.00" stroke-width="1.0" />
<line x1="1456.10" y1="781.20" x2="1586.60" y2="781.20" stroke-width="1.0" />
<line x1="1463.10" y1="785.50" x2="1583.10" y2="785.50" stroke-width="1.1" />
<line x1="1464.10" y1="793.60" x2="1578.10" y2="793.60" stroke-width="1.0" />
<line x1="1464.10" y1="797.70" x2="1578.10" y2="797.70" stroke-width="1.0" />
<line x1="1466.10" y1="801.70" x2="1576.10" y2="801.70" stroke-width="2.2" />
<line x1="1469.50" y1="776.00" x2="1469.50" y2="785.50" stroke-width="1.0" />
<rect x="1463.80" y="786.90" width="11.20" height="4.10" stroke-width="1.0" fill="none" rx="0" />
<rect x="1441.10" y="802.40" width="160.30" height="11.40" stroke-width="1.5" fill="#fff" rx="2" />
<line x1="1442.10" y1="811.60" x2="1600.40" y2="811.60" stroke-width="1.0" />
<rect x="1483.00" y="813.80" width="76.20" height="74.80" stroke-width="1.5" fill="none" rx="0" />
<line x1="1483.00" y1="888.80" x2="1559.20" y2="888.80" stroke-width="2.6" />
<rect x="1483.00" y="888.80" width="76.20" height="69.80" stroke-width="1.5" fill="none" rx="0" />
<rect x="1483.00" y="912.30" width="76.20" height="41.90" stroke-width="0" fill="#000" rx="0" />
<line x1="1491.10" y1="914.00" x2="1491.10" y2="952.00" stroke-width="0.8" stroke="#fff"/>
<line x1="1494.43" y1="914.00" x2="1494.43" y2="952.00" stroke-width="0.8" stroke="#fff"/>
<line x1="1497.76" y1="914.00" x2="1497.76" y2="952.00" stroke-width="0.8" stroke="#fff"/>
<line x1="1501.09" y1="914.00" x2="1501.09" y2="952.00" stroke-width="0.8" stroke="#fff"/>
<line x1="1504.42" y1="914.00" x2="1504.42" y2="952.00" stroke-width="0.8" stroke="#fff"/>
<line x1="1507.75" y1="914.00" x2="1507.75" y2="952.00" stroke-width="0.8" stroke="#fff"/>
<line x1="1511.08" y1="914.00" x2="1511.08" y2="952.00" stroke-width="0.8" stroke="#fff"/>
<line x1="1514.41" y1="914.00" x2="1514.41" y2="952.00" stroke-width="0.8" stroke="#fff"/>
<line x1="1517.74" y1="914.00" x2="1517.74" y2="952.00" stroke-width="0.8" stroke="#fff"/>
<line x1="1521.07" y1="914.00" x2="1521.07" y2="952.00" stroke-width="0.8" stroke="#fff"/>
<line x1="1524.40" y1="914.00" x2="1524.40" y2="952.00" stroke-width="0.8" stroke="#fff"/>
<line x1="1527.73" y1="914.00" x2="1527.73" y2="952.00" stroke-width="0.8" stroke="#fff"/>
<line x1="1531.06" y1="914.00" x2="1531.06" y2="952.00" stroke-width="0.8" stroke="#fff"/>
<line x1="1534.39" y1="914.00" x2="1534.39" y2="952.00" stroke-width="0.8" stroke="#fff"/>
<line x1="1537.72" y1="914.00" x2="1537.72" y2="952.00" stroke-width="0.8" stroke="#fff"/>
<line x1="1541.05" y1="914.00" x2="1541.05" y2="952.00" stroke-width="0.8" stroke="#fff"/>
<line x1="1544.38" y1="914.00" x2="1544.38" y2="952.00" stroke-width="0.8" stroke="#fff"/>
<line x1="1547.71" y1="914.00" x2="1547.71" y2="952.00" stroke-width="0.8" stroke="#fff"/>
<line x1="1551.04" y1="914.00" x2="1551.04" y2="952.00" stroke-width="0.8" stroke="#fff"/>
<line x1="1483.00" y1="955.00" x2="1559.20" y2="955.00" stroke-width="1.0" />
<line x1="1521.10" y1="963.50" x2="1521.10" y2="1069.50" stroke-width="1.3" />
<line x1="1806.10" y1="686.20" x2="1874.00" y2="686.20" stroke-width="1.4" />
<line x1="1806.10" y1="753.00" x2="1874.00" y2="753.00" stroke-width="1.4" />
<rect x="1661.10" y="682.00" width="8.80" height="74.20" stroke-width="1.4" fill="#fff" rx="1.5" />
<line x1="1663.60" y1="683.00" x2="1663.60" y2="755.00" stroke-width="1.0" />
<line x1="1667.60" y1="683.00" x2="1667.60" y2="755.00" stroke-width="1.6" stroke="#888"/>
<rect x="1796.40" y="682.00" width="10.00" height="74.20" stroke-width="1.4" fill="#fff" rx="1.5" />
<line x1="1799.10" y1="683.00" x2="1799.10" y2="755.00" stroke-width="1.0" />
<line x1="1803.60" y1="683.00" x2="1803.60" y2="755.00" stroke-width="1.6" stroke="#888"/>
<rect x="1670.50" y="679.20" width="125.90" height="91.80" stroke-width="1.5" fill="#fff" rx="0" />
<line x1="1694.00" y1="679.20" x2="1694.00" y2="771.00" stroke-width="1.5" />
<line x1="1694.00" y1="684.80" x2="1774.30" y2="684.80" stroke-width="1.3" />
<line x1="1774.30" y1="679.20" x2="1774.30" y2="684.80" stroke-width="1.1" />
<path d="M1704.8999999999999,743.8 Q1701.1,750 1694.5,752" stroke-width="1.3" fill="none" />
<path d="M1694.5,752 Q1702.1,752.5 1708.1,754.6 L1708.1,761.8 Q1701.1,767 1694.5,769" stroke-width="1.4" fill="none" />
<line x1="1711.60" y1="747.40" x2="1711.60" y2="771.00" stroke-width="1.3" />
<path d="M1712.6,762.8 Q1712.1,768 1707.1,771" stroke-width="1.2" fill="none" />
<path d="M1727.5,754 L1727.5,771 M1740.3999999999999,754 L1740.3999999999999,771 M1727.5,754.6 L1740.3999999999999,754.6 M1727.5,760.3 L1740.3999999999999,760.3" stroke-width="1.2" fill="none" />
<path d="M1712.6,762.3 Q1729.1,762.5 1737.1,764 L1740.3999999999999,765 L1756.1,765.4" stroke-width="1.2" fill="none" />
<path d="M1737.1,764 Q1738.1,768 1735.1,771" stroke-width="1.1" fill="none" />
<line x1="1756.40" y1="748.40" x2="1756.40" y2="771.00" stroke-width="1.3" />
<path d="M1763.3,743.8 Q1769.1,751 1776.1,752.5" stroke-width="1.3" fill="none" />
<path d="M1760.1,753 L1776.5,753" stroke-width="1.2" fill="none" />
<line x1="1771.40" y1="752.50" x2="1771.40" y2="771.00" stroke-width="1.2" />
<line x1="1776.50" y1="752.50" x2="1776.50" y2="771.00" stroke-width="2.3" />
<path d="M1756.3999999999999,765.4 Q1762.1,770 1771.1,771" stroke-width="1.2" fill="none" />
<path d="M1756.3,684.8 A40.7,40.7 0 1 1 1711.8999999999999,684.8 Z" stroke-width="1.2" fill="#fff" />
<line x1="1711.90" y1="684.80" x2="1756.30" y2="684.80" stroke-width="1.3" />
<circle cx="1734.10" cy="718.90" r="35.10" stroke-width="2.3" fill="none" />
<circle cx="1734.10" cy="718.90" r="28.40" stroke-width="1.1" fill="none" />
<circle cx="1734.10" cy="718.90" r="26.00" stroke-width="1.1" fill="none" />
<path d="M1734.1,703.6 C1742.1,703.6 1745.6,716 1745.8999999999999,730 Q1746.1,739 1743.1,744.5 M1734.1,703.6 C1726.1,703.6 1722.6,716 1722.3,730 Q1722.1,739 1725.1,744.5" stroke-width="1.2" fill="none" />
<line x1="1700.90" y1="718.90" x2="1720.60" y2="718.90" stroke-width="1.1" />
<line x1="1727.40" y1="718.90" x2="1741.00" y2="718.90" stroke-width="1.1" />
<line x1="1747.90" y1="718.90" x2="1768.30" y2="718.90" stroke-width="1.1" />
<line x1="1734.10" y1="683.60" x2="1734.10" y2="710.00" stroke-width="1.1" />
<line x1="1734.10" y1="712.50" x2="1734.10" y2="725.30" stroke-width="1.1" />
<line x1="1734.10" y1="731.70" x2="1734.10" y2="803.00" stroke-width="1.1" />
<text transform="translate(1779.90,728.50) scale(0.7659,1)" x="-1.03" y="0" font-size="25.71" fill="#000" stroke="none" font-weight="bold">C</text>
<path d="M1667.8999999999999,775 Q1667.8999999999999,771.5 1671.1,771.5 L1797.6,771.5 Q1800.6,771.5 1800.6,775 L1800.6,782 Q1800.6,785.7 1796.1,785.7 L1792.3,786 L1792.3,800 Q1792.3,802.2 1789.1,802.2 L1679.1,802.2 Q1675.8999999999999,802.2 1675.8999999999999,800 L1675.8999999999999,791 Q1672.1,786 1667.8999999999999,782 Z" stroke-width="1.6" fill="#fff" />
<line x1="1669.10" y1="776.00" x2="1799.60" y2="776.00" stroke-width="1.0" />
<line x1="1669.10" y1="781.20" x2="1799.60" y2="781.20" stroke-width="1.0" />
<line x1="1676.10" y1="785.50" x2="1796.10" y2="785.50" stroke-width="1.1" />
<line x1="1677.10" y1="793.60" x2="1791.10" y2="793.60" stroke-width="1.0" />
<line x1="1677.10" y1="797.70" x2="1791.10" y2="797.70" stroke-width="1.0" />
<line x1="1679.10" y1="801.70" x2="1789.10" y2="801.70" stroke-width="2.2" />
<line x1="1682.50" y1="776.00" x2="1682.50" y2="785.50" stroke-width="1.0" />
<rect x="1676.80" y="786.90" width="11.20" height="4.10" stroke-width="1.0" fill="none" rx="0" />
<rect x="1654.10" y="802.40" width="160.30" height="11.40" stroke-width="1.5" fill="#fff" rx="2" />
<line x1="1655.10" y1="811.60" x2="1813.40" y2="811.60" stroke-width="1.0" />
<rect x="1696.00" y="813.80" width="76.20" height="74.80" stroke-width="1.5" fill="none" rx="0" />
<line x1="1696.00" y1="888.80" x2="1772.20" y2="888.80" stroke-width="2.6" />
<rect x="1696.00" y="888.80" width="76.20" height="69.80" stroke-width="1.5" fill="none" rx="0" />
<rect x="1696.00" y="912.30" width="76.20" height="41.90" stroke-width="0" fill="#000" rx="0" />
<line x1="1704.10" y1="914.00" x2="1704.10" y2="952.00" stroke-width="0.8" stroke="#fff"/>
<line x1="1707.43" y1="914.00" x2="1707.43" y2="952.00" stroke-width="0.8" stroke="#fff"/>
<line x1="1710.76" y1="914.00" x2="1710.76" y2="952.00" stroke-width="0.8" stroke="#fff"/>
<line x1="1714.09" y1="914.00" x2="1714.09" y2="952.00" stroke-width="0.8" stroke="#fff"/>
<line x1="1717.42" y1="914.00" x2="1717.42" y2="952.00" stroke-width="0.8" stroke="#fff"/>
<line x1="1720.75" y1="914.00" x2="1720.75" y2="952.00" stroke-width="0.8" stroke="#fff"/>
<line x1="1724.08" y1="914.00" x2="1724.08" y2="952.00" stroke-width="0.8" stroke="#fff"/>
<line x1="1727.41" y1="914.00" x2="1727.41" y2="952.00" stroke-width="0.8" stroke="#fff"/>
<line x1="1730.74" y1="914.00" x2="1730.74" y2="952.00" stroke-width="0.8" stroke="#fff"/>
<line x1="1734.07" y1="914.00" x2="1734.07" y2="952.00" stroke-width="0.8" stroke="#fff"/>
<line x1="1737.40" y1="914.00" x2="1737.40" y2="952.00" stroke-width="0.8" stroke="#fff"/>
<line x1="1740.73" y1="914.00" x2="1740.73" y2="952.00" stroke-width="0.8" stroke="#fff"/>
<line x1="1744.06" y1="914.00" x2="1744.06" y2="952.00" stroke-width="0.8" stroke="#fff"/>
<line x1="1747.39" y1="914.00" x2="1747.39" y2="952.00" stroke-width="0.8" stroke="#fff"/>
<line x1="1750.72" y1="914.00" x2="1750.72" y2="952.00" stroke-width="0.8" stroke="#fff"/>
<line x1="1754.05" y1="914.00" x2="1754.05" y2="952.00" stroke-width="0.8" stroke="#fff"/>
<line x1="1757.38" y1="914.00" x2="1757.38" y2="952.00" stroke-width="0.8" stroke="#fff"/>
<line x1="1760.71" y1="914.00" x2="1760.71" y2="952.00" stroke-width="0.8" stroke="#fff"/>
<line x1="1764.04" y1="914.00" x2="1764.04" y2="952.00" stroke-width="0.8" stroke="#fff"/>
<line x1="1696.00" y1="955.00" x2="1772.20" y2="955.00" stroke-width="1.0" />
<line x1="1734.10" y1="963.50" x2="1734.10" y2="1069.50" stroke-width="1.3" />
<rect x="1874.00" y="682.00" width="8.80" height="74.20" stroke-width="1.4" fill="#fff" rx="1.5" />
<line x1="1876.50" y1="683.00" x2="1876.50" y2="755.00" stroke-width="1.0" />
<line x1="1880.50" y1="683.00" x2="1880.50" y2="755.00" stroke-width="1.6" stroke="#888"/>
<rect x="2009.30" y="682.00" width="10.00" height="74.20" stroke-width="1.4" fill="#fff" rx="1.5" />
<line x1="2012.00" y1="683.00" x2="2012.00" y2="755.00" stroke-width="1.0" />
<line x1="2016.50" y1="683.00" x2="2016.50" y2="755.00" stroke-width="1.6" stroke="#888"/>
<rect x="1883.40" y="679.20" width="125.90" height="91.80" stroke-width="1.5" fill="#fff" rx="0" />
<line x1="1906.90" y1="679.20" x2="1906.90" y2="771.00" stroke-width="1.5" />
<line x1="1906.90" y1="684.80" x2="1987.20" y2="684.80" stroke-width="1.3" />
<line x1="1987.20" y1="679.20" x2="1987.20" y2="684.80" stroke-width="1.1" />
<path d="M1917.8,743.8 Q1914.0,750 1907.4,752" stroke-width="1.3" fill="none" />
<path d="M1907.4,752 Q1915.0,752.5 1921.0,754.6 L1921.0,761.8 Q1914.0,767 1907.4,769" stroke-width="1.4" fill="none" />
<line x1="1924.50" y1="747.40" x2="1924.50" y2="771.00" stroke-width="1.3" />
<path d="M1925.5,762.8 Q1925.0,768 1920.0,771" stroke-width="1.2" fill="none" />
<path d="M1940.4,754 L1940.4,771 M1953.3,754 L1953.3,771 M1940.4,754.6 L1953.3,754.6 M1940.4,760.3 L1953.3,760.3" stroke-width="1.2" fill="none" />
<path d="M1925.5,762.3 Q1942.0,762.5 1950.0,764 L1953.3,765 L1969.0,765.4" stroke-width="1.2" fill="none" />
<path d="M1950.0,764 Q1951.0,768 1948.0,771" stroke-width="1.1" fill="none" />
<line x1="1969.30" y1="748.40" x2="1969.30" y2="771.00" stroke-width="1.3" />
<path d="M1976.2,743.8 Q1982.0,751 1989.0,752.5" stroke-width="1.3" fill="none" />
<path d="M1973.0,753 L1989.4,753" stroke-width="1.2" fill="none" />
<line x1="1984.30" y1="752.50" x2="1984.30" y2="771.00" stroke-width="1.2" />
<line x1="1989.40" y1="752.50" x2="1989.40" y2="771.00" stroke-width="2.3" />
<path d="M1969.3,765.4 Q1975.0,770 1984.0,771" stroke-width="1.2" fill="none" />
<path d="M1969.2,684.8 A40.7,40.7 0 1 1 1924.8,684.8 Z" stroke-width="1.2" fill="#fff" />
<line x1="1924.80" y1="684.80" x2="1969.20" y2="684.80" stroke-width="1.3" />
<circle cx="1947.00" cy="718.90" r="35.10" stroke-width="2.3" fill="none" />
<circle cx="1947.00" cy="718.90" r="28.40" stroke-width="1.1" fill="none" />
<circle cx="1947.00" cy="718.90" r="26.00" stroke-width="1.1" fill="none" />
<path d="M1947.0,703.6 C1955.0,703.6 1958.5,716 1958.8,730 Q1959.0,739 1956.0,744.5 M1947.0,703.6 C1939.0,703.6 1935.5,716 1935.2,730 Q1935.0,739 1938.0,744.5" stroke-width="1.2" fill="none" />
<line x1="1913.80" y1="718.90" x2="1933.50" y2="718.90" stroke-width="1.1" />
<line x1="1940.30" y1="718.90" x2="1953.90" y2="718.90" stroke-width="1.1" />
<line x1="1960.80" y1="718.90" x2="1981.20" y2="718.90" stroke-width="1.1" />
<line x1="1947.00" y1="683.60" x2="1947.00" y2="710.00" stroke-width="1.1" />
<line x1="1947.00" y1="712.50" x2="1947.00" y2="725.30" stroke-width="1.1" />
<line x1="1947.00" y1="731.70" x2="1947.00" y2="803.00" stroke-width="1.1" />
<text transform="translate(1992.80,728.50) scale(0.7659,1)" x="-1.03" y="0" font-size="25.71" fill="#000" stroke="none" font-weight="bold">C</text>
<path d="M1880.8,775 Q1880.8,771.5 1884.0,771.5 L2010.5,771.5 Q2013.5,771.5 2013.5,775 L2013.5,782 Q2013.5,785.7 2009.0,785.7 L2005.2,786 L2005.2,800 Q2005.2,802.2 2002.0,802.2 L1892.0,802.2 Q1888.8,802.2 1888.8,800 L1888.8,791 Q1885.0,786 1880.8,782 Z" stroke-width="1.6" fill="#fff" />
<line x1="1882.00" y1="776.00" x2="2012.50" y2="776.00" stroke-width="1.0" />
<line x1="1882.00" y1="781.20" x2="2012.50" y2="781.20" stroke-width="1.0" />
<line x1="1889.00" y1="785.50" x2="2009.00" y2="785.50" stroke-width="1.1" />
<line x1="1890.00" y1="793.60" x2="2004.00" y2="793.60" stroke-width="1.0" />
<line x1="1890.00" y1="797.70" x2="2004.00" y2="797.70" stroke-width="1.0" />
<line x1="1892.00" y1="801.70" x2="2002.00" y2="801.70" stroke-width="2.2" />
<line x1="1895.40" y1="776.00" x2="1895.40" y2="785.50" stroke-width="1.0" />
<rect x="1889.70" y="786.90" width="11.20" height="4.10" stroke-width="1.0" fill="none" rx="0" />
<rect x="1867.00" y="802.40" width="160.30" height="11.40" stroke-width="1.5" fill="#fff" rx="2" />
<line x1="1868.00" y1="811.60" x2="2026.30" y2="811.60" stroke-width="1.0" />
<rect x="1908.90" y="813.80" width="76.20" height="74.80" stroke-width="1.5" fill="none" rx="0" />
<line x1="1908.90" y1="888.80" x2="1985.10" y2="888.80" stroke-width="2.6" />
<rect x="1908.90" y="888.80" width="76.20" height="69.80" stroke-width="1.5" fill="none" rx="0" />
<rect x="1908.90" y="912.30" width="76.20" height="41.90" stroke-width="0" fill="#000" rx="0" />
<line x1="1917.00" y1="914.00" x2="1917.00" y2="952.00" stroke-width="0.8" stroke="#fff"/>
<line x1="1920.33" y1="914.00" x2="1920.33" y2="952.00" stroke-width="0.8" stroke="#fff"/>
<line x1="1923.66" y1="914.00" x2="1923.66" y2="952.00" stroke-width="0.8" stroke="#fff"/>
<line x1="1926.99" y1="914.00" x2="1926.99" y2="952.00" stroke-width="0.8" stroke="#fff"/>
<line x1="1930.32" y1="914.00" x2="1930.32" y2="952.00" stroke-width="0.8" stroke="#fff"/>
<line x1="1933.65" y1="914.00" x2="1933.65" y2="952.00" stroke-width="0.8" stroke="#fff"/>
<line x1="1936.98" y1="914.00" x2="1936.98" y2="952.00" stroke-width="0.8" stroke="#fff"/>
<line x1="1940.31" y1="914.00" x2="1940.31" y2="952.00" stroke-width="0.8" stroke="#fff"/>
<line x1="1943.64" y1="914.00" x2="1943.64" y2="952.00" stroke-width="0.8" stroke="#fff"/>
<line x1="1946.97" y1="914.00" x2="1946.97" y2="952.00" stroke-width="0.8" stroke="#fff"/>
<line x1="1950.30" y1="914.00" x2="1950.30" y2="952.00" stroke-width="0.8" stroke="#fff"/>
<line x1="1953.63" y1="914.00" x2="1953.63" y2="952.00" stroke-width="0.8" stroke="#fff"/>
<line x1="1956.96" y1="914.00" x2="1956.96" y2="952.00" stroke-width="0.8" stroke="#fff"/>
<line x1="1960.29" y1="914.00" x2="1960.29" y2="952.00" stroke-width="0.8" stroke="#fff"/>
<line x1="1963.62" y1="914.00" x2="1963.62" y2="952.00" stroke-width="0.8" stroke="#fff"/>
<line x1="1966.95" y1="914.00" x2="1966.95" y2="952.00" stroke-width="0.8" stroke="#fff"/>
<line x1="1970.28" y1="914.00" x2="1970.28" y2="952.00" stroke-width="0.8" stroke="#fff"/>
<line x1="1973.61" y1="914.00" x2="1973.61" y2="952.00" stroke-width="0.8" stroke="#fff"/>
<line x1="1976.94" y1="914.00" x2="1976.94" y2="952.00" stroke-width="0.8" stroke="#fff"/>
<line x1="1908.90" y1="955.00" x2="1985.10" y2="955.00" stroke-width="1.0" />
<line x1="1947.00" y1="963.50" x2="1947.00" y2="1069.50" stroke-width="1.3" />
<rect x="2019.30" y="684.60" width="8.40" height="69.40" stroke-width="1.4" fill="none" rx="0" />
<line x1="1139.10" y1="609.90" x2="1410.20" y2="609.90" stroke-width="1.9" />
<line x1="1410.20" y1="609.90" x2="1332.40" y2="691.30" stroke-width="1.3" />
<path d="M1332.40,691.30 L1343.07,675.22 L1347.99,679.91Z" fill="#000" stroke="none"/>
<line x1="1410.20" y1="609.90" x2="1491.00" y2="692.80" stroke-width="1.3" />
<path d="M1491.00,692.80 L1475.30,681.57 L1480.17,676.82Z" fill="#000" stroke="none"/>
<line x1="1410.20" y1="609.90" x2="1708.50" y2="692.00" stroke-width="1.3" />
<path d="M1708.50,692.00 L1689.28,690.24 L1691.08,683.68Z" fill="#000" stroke="none"/>
<line x1="1410.20" y1="609.90" x2="1919.40" y2="692.80" stroke-width="1.3" />
<path d="M1919.40,692.80 L1900.10,693.10 L1901.19,686.39Z" fill="#000" stroke="none"/>
<text transform="translate(1138.70,563.00) scale(0.9390,1)" x="-0.70" y="0" font-size="35.22" fill="#000" stroke="#fff" stroke-width="0.5">4</text>
<text transform="translate(1168.60,563.00) scale(0.8215,1)" x="-2.64" y="0" font-size="35.22" fill="#000" stroke="#fff" stroke-width="0.5">USCITE</text>
<text transform="translate(1283.60,563.00) scale(1.0361,1)" x="-1.76" y="0" font-size="35.22" fill="#000" stroke="#fff" stroke-width="0.5">G1/2''</text>
<text transform="translate(1140.60,602.30) scale(1.0076,1)" x="-0.18" y="0" font-size="35.07" fill="#000" stroke="#fff" stroke-width="0.5" font-style="italic">4</text>
<text transform="translate(1170.20,602.30) scale(0.8336,1)" x="-1.93" y="0" font-size="35.07" fill="#000" stroke="#fff" stroke-width="0.5" font-style="italic">OUTPUTS</text>
<text transform="translate(1319.20,602.30) scale(1.0458,1)" x="-1.75" y="0" font-size="35.07" fill="#000" stroke="#fff" stroke-width="0.5" font-style="italic">G1/2''</text>
<line x1="1075.60" y1="1064.50" x2="1308.20" y2="1064.50" stroke-width="1.3" />
<path d="M1075.60,1064.50 L1097.10,1060.90 L1097.10,1068.10Z" fill="#000" stroke="none"/>
<path d="M1308.20,1064.50 L1286.70,1068.10 L1286.70,1060.90Z" fill="#000" stroke="none"/>
<text transform="translate(1173.60,1058.50) scale(0.9440,1)" x="-1.45" y="0" font-size="32.14" fill="#000" stroke="#fff" stroke-width="0.5">88</text>
<line x1="1308.20" y1="1064.60" x2="1521.10" y2="1064.60" stroke-width="1.3" />
<path d="M1308.20,1064.60 L1329.70,1061.00 L1329.70,1068.20Z" fill="#000" stroke="none"/>
<path d="M1521.10,1064.60 L1499.60,1068.20 L1499.60,1061.00Z" fill="#000" stroke="none"/>
<text transform="translate(1394.50,1058.50) scale(0.9726,1)" x="-1.45" y="0" font-size="32.14" fill="#000" stroke="#fff" stroke-width="0.5">80</text>
<line x1="1521.10" y1="1064.60" x2="1734.10" y2="1064.60" stroke-width="1.3" />
<path d="M1521.10,1064.60 L1542.60,1061.00 L1542.60,1068.20Z" fill="#000" stroke="none"/>
<path d="M1734.10,1064.60 L1712.60,1068.20 L1712.60,1061.00Z" fill="#000" stroke="none"/>
<text transform="translate(1612.70,1058.50) scale(0.9847,1)" x="-1.45" y="0" font-size="32.14" fill="#000" stroke="#fff" stroke-width="0.5">80</text>
<line x1="1734.10" y1="1064.60" x2="1947.00" y2="1064.60" stroke-width="1.3" />
<path d="M1734.10,1064.60 L1755.60,1061.00 L1755.60,1068.20Z" fill="#000" stroke="none"/>
<path d="M1947.00,1064.60 L1925.50,1068.20 L1925.50,1061.00Z" fill="#000" stroke="none"/>
<text transform="translate(1825.90,1058.50) scale(0.9786,1)" x="-1.45" y="0" font-size="32.14" fill="#000" stroke="#fff" stroke-width="0.5">80</text>
<line x1="1075.60" y1="1060.00" x2="1075.60" y2="1069.50" stroke-width="1.3" />
</g>
</svg>
</body></html>
